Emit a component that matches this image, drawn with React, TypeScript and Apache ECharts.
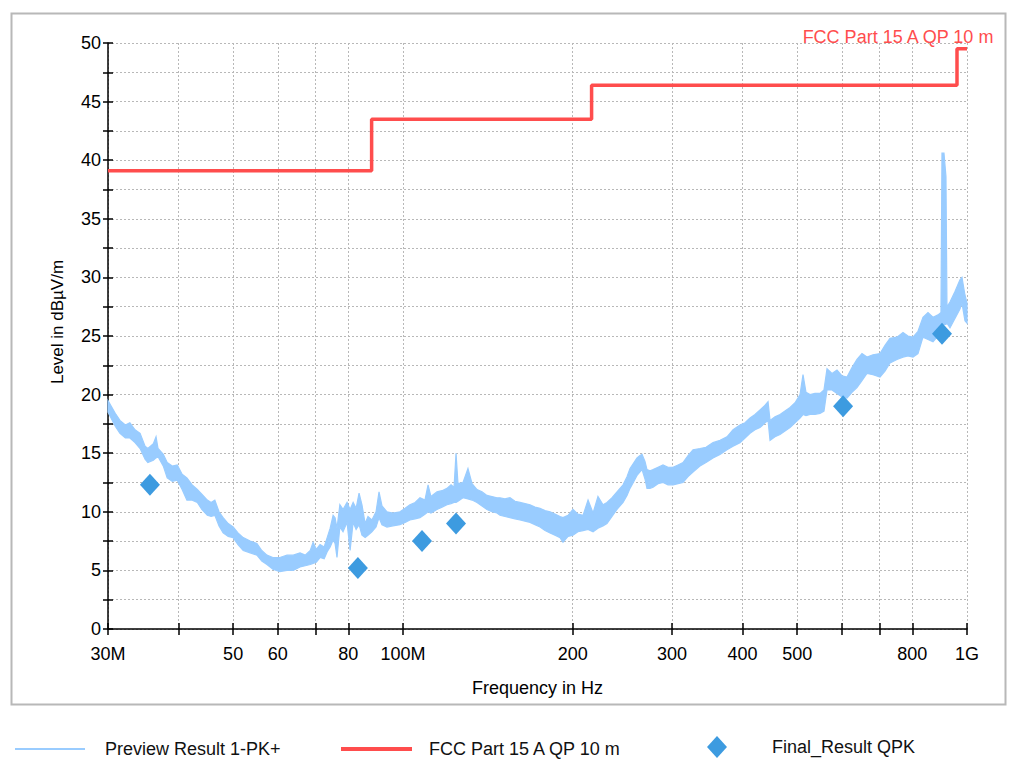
import { useEffect, useRef } from "react";
import * as echarts from "echarts";

const FONT = "'Liberation Sans', Arial, Helvetica, sans-serif";

// Preview Result 1-PK+ : envelope of the noisy peak trace (MHz, dBµV/m)
const previewFreqMHz = [
  30.0, 30.9, 31.5, 32.2, 32.8, 33.5, 34.2, 34.9, 35.3, 36.1, 36.5, 36.8, 37.6, 38.2, 39.0, 39.8,
  40.6, 41.4, 42.3, 43.2, 44.0, 45.0, 45.7, 46.4, 47.2, 48.0, 49.0, 50.0, 51.0, 52.1, 53.6, 55.1,
  56.2, 57.4, 58.8, 60.5, 62.3, 63.9, 65.7, 67.1, 68.5, 69.3, 70.2, 71.3, 72.5, 73.4, 74.3, 75.2,
  75.8, 76.4, 77.3, 78.3, 79.6, 80.6, 81.6, 82.6, 83.6, 84.6, 85.7, 86.7, 88.1, 89.6, 90.7, 91.8,
  93.7, 96.0, 98.8, 100.9, 102.9, 105.1, 107.2, 109.4, 110.8, 112.1, 114.9, 117.3, 119.7, 121.7,
  123.2, 124.2, 125.2, 127.8, 130.4, 132.6, 135.3, 138.1, 140.9, 143.8, 146.8, 148.6, 151.7, 154.8,
  158.0, 161.3, 164.6, 168.0, 171.4, 175.0, 178.6, 182.3, 186.0, 189.9, 192.2, 196.2, 200.2, 204.3,
  208.6, 212.9, 217.3, 221.7, 226.3, 230.0, 234.8, 239.6, 242.6, 245.6, 249.6, 252.7, 256.8, 260.0,
  263.2, 265.4, 268.6, 270.8, 274.2, 277.6, 283.3, 289.1, 295.1, 301.2, 307.4, 313.7, 320.2, 326.8,
  336.2, 344.6, 354.6, 364.9, 375.4, 384.8, 395.9, 404.1, 412.4, 420.9, 429.6, 436.7, 443.9, 447.5,
  456.7, 466.1, 475.7, 485.6, 495.6, 505.8, 512.0, 518.3, 526.9, 537.7, 548.8, 557.8, 564.7, 576.3,
  588.2, 600.3, 612.7, 625.3, 638.2, 651.4, 664.8, 681.3, 701.1, 715.5, 730.3, 751.4, 770.1, 785.9,
  802.1, 818.7, 835.5, 852.8, 870.3, 888.3, 899.2, 902.9, 910.3, 917.7, 921.5, 932.9, 952.1, 971.7,
  979.7, 991.7, 1000
];
const previewUpper = [
  19.5, 18.4, 17.8, 17.4, 17.6, 17.0, 16.7, 15.6, 15.4, 15.8, 16.4, 15.4, 14.9, 14.2, 13.9, 14.0,
  13.2, 12.9, 12.3, 11.9, 11.5, 11.0, 10.8, 11.0, 10.0, 9.5, 9.0, 8.7, 8.2, 7.8, 7.5, 7.3,
  6.7, 6.3, 6.1, 6.1, 6.3, 6.3, 6.5, 6.3, 6.7, 7.4, 6.8, 7.2, 7.0, 7.8, 8.6, 9.7,
  9.5, 8.6, 10.6, 10.2, 10.8, 10.2, 10.8, 10.3, 11.6, 10.6, 9.0, 9.6, 9.3, 10.0, 11.7, 10.5,
  10.0, 9.9, 10.0, 10.3, 10.6, 10.8, 11.2, 11.0, 12.3, 11.3, 11.7, 11.8, 12.0, 12.3,
  12.1, 15.0, 12.4, 12.5, 13.7, 12.4, 11.9, 11.7, 11.4, 11.3, 11.2, 11.2, 11.1, 11.2,
  10.9, 10.8, 10.7, 10.6, 10.4, 10.3, 10.1, 10.0, 9.8, 9.6, 9.5, 9.7, 10.2, 9.8,
  9.7, 11.0, 9.9, 11.3, 10.6, 10.8, 11.2, 11.7, 12.0, 12.3, 13.0, 13.7, 14.2, 14.6,
  14.8, 14.9, 14.3, 13.6, 13.5, 13.6, 13.8, 14.0, 13.8, 13.8, 14.0, 14.2, 14.8, 15.3,
  15.4, 15.5, 15.9, 16.1, 16.4, 17.0, 17.4, 17.6, 18.0, 18.3, 18.7, 19.0, 19.4, 17.8,
  18.1, 18.3, 18.6, 18.9, 19.3, 20.0, 21.7, 20.2, 20.0, 20.1, 20.1, 20.4, 22.2, 21.8,
  22.1, 21.6, 21.5, 22.3, 23.0, 23.5, 23.2, 23.4, 23.5, 24.2, 24.8, 24.9, 25.3, 25.0,
  24.9, 25.4, 26.6, 27.0, 26.6, 26.8, 27.0, 40.6, 40.6, 38.6, 27.5, 27.9, 28.8, 29.8,
  30.0, 28.5, 27.8
];
const previewLower = [
  18.5, 17.3, 16.7, 16.3, 16.3, 15.9, 15.4, 14.5, 14.2, 14.4, 14.6, 14.7, 13.9, 12.9, 12.6, 12.7,
  11.9, 11.0, 11.0, 10.8, 10.2, 9.7, 9.6, 9.7, 8.8, 8.2, 7.9, 7.8, 7.2, 6.7, 6.5, 6.3,
  5.8, 5.5, 5.1, 4.9, 5.0, 5.0, 5.3, 5.4, 5.5, 5.6, 5.7, 6.1, 6.0, 6.6, 7.0, 7.6,
  7.3, 6.1, 8.7, 8.3, 9.1, 6.7, 9.1, 8.5, 8.9, 8.0, 7.8, 8.0, 8.3, 8.7, 9.5, 8.9,
  8.7, 8.8, 8.9, 9.1, 9.3, 9.4, 9.5, 9.8, 10.0, 9.9, 10.2, 10.4, 10.6, 10.7,
  10.8, 10.8, 10.9, 11.2, 11.1, 11.0, 10.8, 10.5, 10.2, 10.0, 9.9, 9.7, 9.6, 9.5,
  9.4, 9.3, 9.2, 9.1, 8.9, 8.7, 8.4, 8.2, 8.0, 7.8, 7.4, 7.9, 8.0, 8.3,
  8.4, 8.5, 8.3, 8.6, 8.8, 9.0, 9.6, 10.2, 10.5, 10.8, 11.4, 12.0, 12.6, 13.1,
  13.4, 13.6, 12.8, 12.0, 12.0, 12.1, 12.4, 12.5, 12.3, 12.3, 12.4, 12.5, 13.0, 13.4,
  13.9, 14.2, 14.6, 14.9, 15.3, 15.6, 15.9, 16.3, 16.7, 17.0, 17.2, 17.5, 17.8, 16.1,
  16.4, 16.6, 16.9, 17.2, 17.6, 18.0, 18.3, 18.2, 18.3, 18.3, 18.4, 18.6, 20.4, 20.4,
  20.1, 19.8, 19.7, 20.2, 20.6, 21.2, 21.8, 21.7, 21.5, 22.0, 22.7, 23.0, 23.2, 23.3,
  23.2, 23.5, 24.9, 24.7, 24.5, 25.0, 25.2, 25.6, 26.0, 26.0, 26.1, 25.7, 26.5, 27.3,
  27.8, 26.3, 26.1
];

// FCC Part 15 A QP 10 m limit (MHz, dBµV/m)
const limitFreqMHz = [30, 88, 88, 216, 216, 960, 960, 1000];
const limitLevel = [39.1, 39.1, 43.5, 43.5, 46.4, 46.4, 49.5, 49.5];

// Final_Result QPK (MHz, dBµV/m)
const finalFreqMHz = [35.6, 83.2, 108.1, 124.2, 603, 903];
const finalLevel = [12.3, 5.2, 7.5, 9.0, 19.0, 25.2];

// axis ticks / labels
const xTickValues = [30, 40, 50, 60, 70, 80, 100, 200, 300, 400, 500, 600, 700, 800, 1000];
const xLabelValues = [30, 50, 60, 80, 100, 200, 300, 400, 500, 800, 1000];
const xLabelText = ["30M", "50", "60", "80", "100M", "200", "300", "400", "500", "800", "1G"];

const BLUE_TRACE = "#99ccff";
const RED = "#ff4d4d";
const BLUE_MARK = "#3d9be0";

export default function App() {
  const ref = useRef<HTMLDivElement>(null);

  useEffect(() => {
    if (!ref.current) return;
    const chart = echarts.init(ref.current, null, { renderer: "svg" });

    const gridBox = { left: 108, right: 66, top: 43, bottom: 130 };
    const xLabel = (v: number) => {
      const r = Math.round(v);
      const i = xLabelValues.indexOf(r);
      return i >= 0 ? xLabelText[i] : "";
    };
    const yLabel = (v: number) => (Math.abs(v % 5) < 1e-6 ? String(v) : "");

    const previewData = previewFreqMHz.map((f, i) => [f, previewLower[i], previewUpper[i]]);
    const limitData = limitFreqMHz.map((f, i) => [f, limitLevel[i]]);
    const finalData = finalFreqMHz.map((f, i) => [f, finalLevel[i]]);

    const dotted = { type: [2, 2] as any, color: "#b8b8b8", width: 1 };
    const axisLineStyle = { color: "#000", width: 1.5 };

    const option: any = {
      animation: false,
      textStyle: { fontFamily: FONT },
      grid: [
        { ...gridBox, containLabel: false },
        { ...gridBox, containLabel: false },
      ],
      xAxis: [
        {
          type: "log",
          logBase: 10,
          gridIndex: 0,
          min: 30,
          max: 1000,
          axisLine: { lineStyle: axisLineStyle },
          axisTick: { show: true, customValues: xTickValues, length: 6, lineStyle: axisLineStyle },
          axisLabel: {
            customValues: xLabelValues,
            formatter: xLabel,
            fontSize: 18,
            color: "#000",
            margin: 16,
            fontFamily: FONT,
          },
          splitLine: { show: true, lineStyle: dotted },
          minorTick: { show: false },
          minorSplitLine: { show: false },
          name: "Frequency in Hz",
          nameLocation: "middle",
          nameGap: 50,
          nameTextStyle: { fontSize: 18, color: "#000", fontFamily: FONT },
        },
        {
          type: "log",
          logBase: 10,
          gridIndex: 1,
          min: 30,
          max: 1000,
          axisLine: { show: false },
          axisTick: { show: true, inside: true, customValues: xTickValues, length: 6, lineStyle: axisLineStyle },
          axisLabel: { show: false },
          splitLine: { show: false },
        },
      ],
      yAxis: [
        {
          type: "value",
          gridIndex: 0,
          min: 0,
          max: 50,
          interval: 2.5,
          axisLine: { show: true, lineStyle: axisLineStyle },
          axisTick: { show: true, length: 5, lineStyle: axisLineStyle },
          axisLabel: { formatter: yLabel, fontSize: 18, color: "#000", margin: 7, fontFamily: FONT },
          splitLine: { show: true, lineStyle: dotted },
          name: "Level in dBµV/m",
          nameLocation: "middle",
          nameGap: 42,
          nameTextStyle: { fontSize: 17, color: "#000", fontFamily: FONT, padding: [0, 0, 0, 28] },
        },
        {
          type: "value",
          gridIndex: 1,
          min: 0,
          max: 50,
          interval: 2.5,
          axisLine: { show: false },
          axisTick: { show: true, inside: true, length: 5, lineStyle: axisLineStyle },
          axisLabel: { show: false },
          splitLine: { show: false },
        },
      ],
      legend: [
        {
          data: [{ name: "Preview Result 1-PK+", icon: "rect" }],
          left: 10,
          top: 735,
          itemWidth: 70,
          itemHeight: 2,
          textStyle: { fontSize: 18, color: "#111", fontFamily: FONT, padding: [0, 0, 0, 15] },
        },
        {
          data: [{ name: "FCC Part 15 A QP 10 m", icon: "rect" }],
          left: 336,
          top: 735,
          itemWidth: 71,
          itemHeight: 4,
          textStyle: { fontSize: 18, color: "#111", fontFamily: FONT, padding: [0, 0, 0, 12] },
        },
        {
          data: [{ name: "Final_Result QPK", icon: "diamond" }],
          left: 702,
          top: 731,
          itemWidth: 20,
          itemHeight: 22,
          textStyle: { fontSize: 18, color: "#111", fontFamily: FONT, padding: [0, 0, 0, 40] },
        },
      ],
      graphic: [
        {
          type: "rect",
          left: 9,
          top: 11,
          shape: { width: 994, height: 691 },
          style: { fill: "none", stroke: "#b8b8b8", lineWidth: 2 },
          silent: true,
          z: -10,
        },
        {
          type: "text",
          x: 898,
          y: 37,
          style: {
            text: "FCC Part 15 A QP 10 m",
            fill: RED,
            font: `18px ${FONT}`,
            align: "center",
            verticalAlign: "middle",
          },
          silent: true,
        },
      ],
      series: [
        {
          name: "Preview Result 1-PK+",
          type: "custom",
          xAxisIndex: 0,
          yAxisIndex: 0,
          data: previewData,
          encode: { x: 0, y: [1, 2] },
          itemStyle: { color: BLUE_TRACE },
          renderItem: (params: any, api: any) => {
            if (params.dataIndex !== 0) return null;
            const pts: number[][] = [];
            for (let i = 0; i < previewFreqMHz.length; i++) {
              pts.push(api.coord([previewFreqMHz[i], previewUpper[i]]));
            }
            for (let i = previewFreqMHz.length - 1; i >= 0; i--) {
              pts.push(api.coord([previewFreqMHz[i], previewLower[i]]));
            }
            return {
              type: "polygon",
              shape: { points: pts },
              style: { fill: BLUE_TRACE, stroke: BLUE_TRACE, lineWidth: 1.2, lineJoin: "miter" },
            };
          },
          z: 2,
        },
        {
          name: "FCC Part 15 A QP 10 m",
          type: "line",
          xAxisIndex: 0,
          yAxisIndex: 0,
          data: limitData,
          symbol: "none",
          lineStyle: { color: RED, width: 3.5 },
          itemStyle: { color: RED },
          z: 3,
        },
        {
          name: "Final_Result QPK",
          type: "scatter",
          xAxisIndex: 0,
          yAxisIndex: 0,
          data: finalData,
          symbol: "diamond",
          symbolSize: [20, 22],
          itemStyle: { color: BLUE_MARK, opacity: 1 },
          z: 4,
        },
      ],
    };

    chart.setOption(option);
    return () => chart.dispose();
  }, []);

  return (
    <div
      ref={ref}
      style={{ position: "fixed", left: 0, top: 0, width: 1033, height: 759, background: "#fff" }}
    />
  );
}
